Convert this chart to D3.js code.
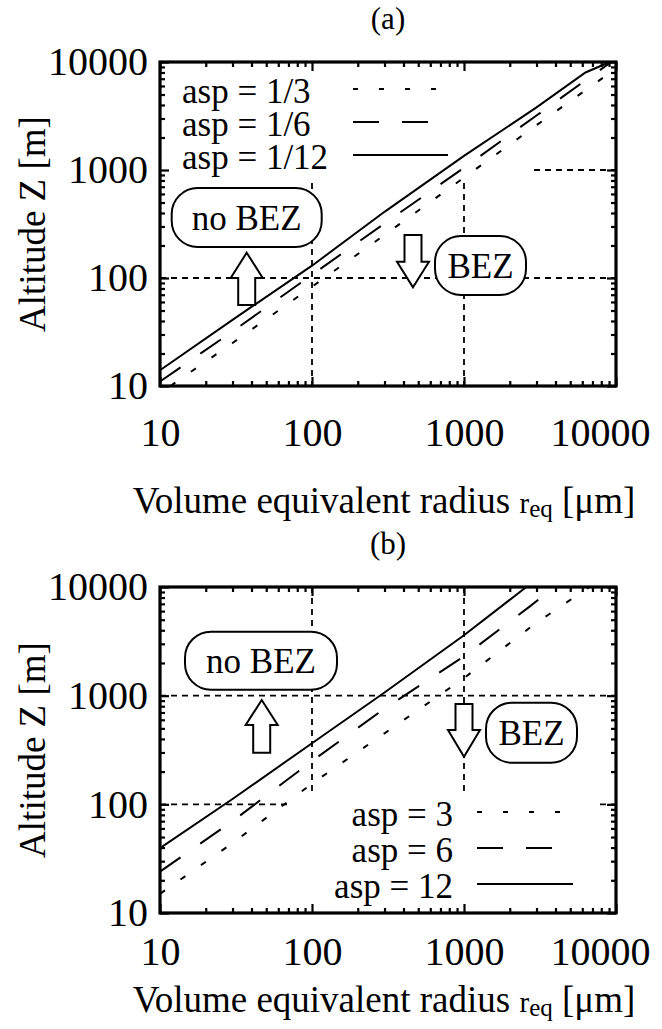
<!DOCTYPE html>
<html>
<head>
<meta charset="utf-8">
<script src="https://cdn.jsdelivr.net/npm/d3@7"></script>
<style>
  body { margin: 0; background: #fff; }
  text { font-family: "Liberation Serif", "Times New Roman", serif; fill: #000; }
</style>
</head>
<body>
<script>
const width = 662;
const height = 1029;

// axis ticks
const majorTicks = [10, 100, 1000, 10000];
const minorTicks = [20, 30, 40, 50, 60, 70, 80, 90, 200, 300, 400, 500, 600, 700, 800, 900,
                    2000, 3000, 4000, 5000, 6000, 7000, 8000, 9000];
const gridTicks = [100, 1000];

// panel (a): radius r_eq [um] and altitude Z [m]
const radiusA_asp3 = [11.7, 30, 100, 300, 1000, 3000, 10000];
const altA_asp3 = [10, 25, 83, 250, 850, 2600, 8700];
const radiusA_asp6 = [10, 30, 100, 300, 1000, 3000, 9300];
const altA_asp6 = [11, 32, 107, 320, 1050, 3200, 10000];
const radiusA_asp12 = [10, 30, 100, 300, 1000, 3000, 6300, 9100];
const altA_asp12 = [14, 41, 130, 410, 1350, 3800, 8000, 10000];
const legendA = ["asp = 1/3", "asp = 1/6", "asp = 1/12"];

// panel (b)
const radiusB_asp3 = [10, 30, 100, 300, 1000, 3000, 6700];
const altB_asp3 = [15, 44, 155, 450, 1450, 4700, 10000];
const radiusB_asp6 = [10, 30, 100, 300, 1000, 2700, 3950];
const altB_asp6 = [24, 70, 250, 760, 2300, 6600, 10000];
const radiusB_asp12 = [10, 30, 100, 300, 1000, 2570];
const altB_asp12 = [39.5, 112, 365, 1070, 3600, 10000];
const legendB = ["asp = 3", "asp = 6", "asp = 12"];

const dashData = ["6,19", "25,24", null];
const dashKey = ["5,21", "26,23", null];

const svg = d3.select("body").append("svg")
    .attr("width", width)
    .attr("height", height);

function arrowPath(cx, tip, headBase, tail) {
    const hw = 16, sw = 8.5;
    return `M${cx},${tip} L${cx + hw},${headBase} L${cx + sw},${headBase} L${cx + sw},${tail}
            L${cx - sw},${tail} L${cx - sw},${headBase} L${cx - hw},${headBase} Z`;
}

function drawPanel(p) {
    const g = svg.append("g").attr("transform", `translate(${p.left},${p.top})`);
    const x = d3.scaleLog().domain([10, 10000]).range([0, p.w]);
    const y = d3.scaleLog().domain([10, 10000]).range([p.h, 0]);

    // dashed grid
    const grid = g.append("g").attr("stroke", "#000").attr("stroke-width", 1.8)
        .attr("stroke-dasharray", "6,5");
    grid.selectAll(".gx").data(gridTicks).join("line")
        .attr("x1", d => x(d)).attr("x2", d => x(d))
        .attr("y1", 0).attr("y2", p.h);
    grid.selectAll(".gy").data(gridTicks).join("line")
        .attr("x1", 0).attr("x2", p.w)
        .attr("y1", d => y(d)).attr("y2", d => y(d));

    // key area hides the grid
    g.append("rect")
        .attr("x", p.keyRect[0]).attr("y", p.keyRect[1])
        .attr("width", p.keyRect[2]).attr("height", p.keyRect[3])
        .attr("fill", "#fff");

    // curves
    const line = d3.line().x(d => x(d[0])).y(d => y(d[1]));
    p.series.forEach((s, i) => {
        g.append("path")
            .datum(d3.zip(s.r, s.z))
            .attr("d", line)
            .attr("fill", "none")
            .attr("stroke", "#000")
            .attr("stroke-width", 2)
            .attr("stroke-dasharray", dashData[i]);
    });

    // labelled boxes and arrows
    p.boxes.forEach(b => {
        g.append("rect")
            .attr("x", b.x).attr("y", b.y).attr("width", b.w).attr("height", b.h)
            .attr("rx", 26).attr("ry", 26)
            .attr("fill", "#fff").attr("stroke", "#000").attr("stroke-width", 2);
        g.append("text")
            .attr("x", b.x + b.w / 2).attr("y", b.y + b.h / 2 + 12)
            .attr("text-anchor", "middle")
            .attr("font-size", 35)
            .text(b.label);
    });
    p.arrows.forEach(a => {
        g.append("path")
            .attr("d", arrowPath(a.cx, a.tip, a.headBase, a.tail))
            .attr("fill", "#fff").attr("stroke", "#000").attr("stroke-width", 2);
    });

    // legend
    p.legend.forEach((label, i) => {
        const by = p.keyY + i * p.keyStep;
        g.append("text")
            .attr("x", p.keyTextX).attr("y", by)
            .attr("text-anchor", p.keyAnchor)
            .attr("font-size", 35)
            .text(label);
        g.append("line")
            .attr("x1", p.keyLine[0]).attr("x2", p.keyLine[1])
            .attr("y1", by - 14).attr("y2", by - 14)
            .attr("stroke", "#000").attr("stroke-width", 2)
            .attr("stroke-dasharray", dashKey[i]);
    });

    // ticks on all four sides, pointing inward
    const sides = [
        { ax: d3.axisBottom(x), tr: `translate(0,${p.h})`, label: "x" },
        { ax: d3.axisTop(x), tr: null, label: null },
        { ax: d3.axisLeft(y), tr: null, label: "y" },
        { ax: d3.axisRight(y), tr: `translate(${p.w},0)`, label: null }
    ];
    sides.forEach(s => {
        const pad = s.label === "x" ? p.xTickBase - 28 : 12;
        const major = g.append("g").attr("transform", s.tr)
            .call(s.ax.tickValues(majorTicks).tickSize(-9).tickSizeOuter(0)
                .tickPadding(s.label ? pad : 0)
                .tickFormat(s.label ? d3.format("d") : ""));
        major.select(".domain").remove();
        major.attr("font-family", null).attr("font-size", 40);
        major.selectAll("line").attr("stroke-width", 2.2);
        if (s.label === "x") {
            // last label is pulled in so it stays on the page
            major.selectAll("text").filter(d => d === 10000).attr("dx", -16);
        }
        const minor = g.append("g").attr("transform", s.tr)
            .call(s.ax.tickValues(minorTicks).tickSize(-5).tickSizeOuter(0).tickFormat(""));
        minor.select(".domain").remove();
        minor.selectAll("line").attr("stroke-width", 2.2);
    });

    // frame
    g.append("rect")
        .attr("width", p.w).attr("height", p.h)
        .attr("fill", "none").attr("stroke", "#000").attr("stroke-width", 3.2);

    // titles
    svg.append("text")
        .attr("x", p.left + p.w / 2).attr("y", p.titleY)
        .attr("text-anchor", "middle")
        .attr("font-size", 31)
        .text(p.title);

    svg.append("text")
        .attr("transform", `translate(45,${p.top + p.h / 2}) rotate(-90)`)
        .attr("text-anchor", "middle")
        .attr("font-size", 37)
        .text("Altitude Z [m]");

    const xl = svg.append("text")
        .attr("x", p.left + p.w / 2 - 4).attr("y", p.xLabelY)
        .attr("text-anchor", "middle")
        .attr("font-size", 37);
    xl.append("tspan").text("Volume equivalent radius ");
    xl.append("tspan").attr("font-size", 29).text("r");
    xl.append("tspan").attr("font-size", 25).attr("dy", 4).text("eq");
    xl.append("tspan").attr("dy", -4).text(" [\u03bcm]");
}

drawPanel({
    title: "(a)", titleY: 29,
    left: 160, top: 62, w: 456, h: 324,
    xTickBase: 60, xLabelY: 513,
    series: [
        { r: radiusA_asp3, z: altA_asp3 },
        { r: radiusA_asp6, z: altA_asp6 },
        { r: radiusA_asp12, z: altA_asp12 }
    ],
    legend: legendA,
    keyRect: [0, 0, 370, 116],
    keyTextX: 22, keyAnchor: "start", keyY: 41, keyStep: 33,
    keyLine: [193, 288],
    boxes: [
        { label: "no BEZ", x: 11.7, y: 126, w: 150, h: 59 },
        { label: "BEZ", x: 275, y: 174, w: 91, h: 59 }
    ],
    arrows: [
        { cx: 86.7, tip: 190.7, headBase: 216, tail: 243 },
        { cx: 253, tip: 225.3, headBase: 199.7, tail: 173 }
    ]
});

drawPanel({
    title: "(b)", titleY: 554,
    left: 160, top: 587, w: 456, h: 326,
    xTickBase: 52, xLabelY: 1012,
    series: [
        { r: radiusB_asp3, z: altB_asp3 },
        { r: radiusB_asp6, z: altB_asp6 },
        { r: radiusB_asp12, z: altB_asp12 }
    ],
    legend: legendB,
    keyRect: [127, 208, 308, 118],
    keyTextX: 293, keyAnchor: "end", keyY: 239, keyStep: 36,
    keyLine: [317, 413],
    boxes: [
        { label: "no BEZ", x: 25, y: 44.7, w: 152, h: 58 },
        { label: "BEZ", x: 326, y: 115.7, w: 91, h: 60 }
    ],
    arrows: [
        { cx: 101.7, tip: 113, headBase: 138, tail: 165.7 },
        { cx: 304, tip: 169.7, headBase: 143, tail: 117 }
    ]
});
</script>
</body>
</html>
